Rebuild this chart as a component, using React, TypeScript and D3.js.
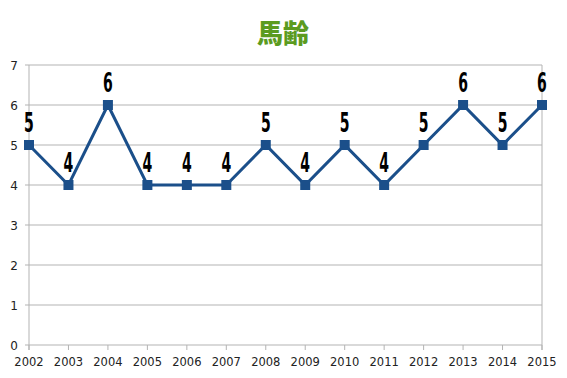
import React from "react";
import * as d3 from "d3";

const years = ["2002","2003","2004","2005","2006","2007","2008","2009","2010","2011","2012","2013","2014","2015"];
const ages = [5,4,6,4,4,4,5,4,5,4,5,6,5,6];
const yTicks = [0,1,2,3,4,5,6,7];
const title = "馬齢";

export default function App() {
  const W = 567, H = 378;
  const left = 29, right = 542, top = 65, bottom = 345;
  const x = d3.scalePoint<string>().domain(years).range([left, right]);
  const y = d3.scaleLinear().domain([0, 7]).range([bottom, top]);
  const line = d3.line<number>().x((_, i) => x(years[i])!).y(d => y(d));
  return (
    <svg width={W} height={H} style={{ position: "absolute", left: 0, top: 0 }}>
      <rect width={W} height={H} fill="#fff" />
      <text x={283} y={43} textAnchor="middle" fontFamily="'Noto Sans CJK JP'" fontWeight="900" fontSize={26} fill="#5b9b1f">{title}</text>
      {yTicks.map(t => (
        <g key={t}>
          <line x1={left - 4} x2={right} y1={y(t)} y2={y(t)} stroke="#b3b3b3" strokeWidth={1} />
          <text x={18} y={y(t) + 5} textAnchor="end" fontFamily="'DejaVu Sans'" fontSize={12} fill="#222">{t}</text>
        </g>
      ))}
      <line x1={left} x2={left} y1={top} y2={bottom + 5} stroke="#b3b3b3" />
      <line x1={right} x2={right} y1={top} y2={bottom + 5} stroke="#b3b3b3" />
      {years.map(yr => (
        <g key={yr}>
          <line x1={x(yr)!} x2={x(yr)!} y1={bottom} y2={bottom + 5} stroke="#b3b3b3" />
          <text x={x(yr)!} y={366} textAnchor="middle" fontFamily="'DejaVu Sans'" fontSize={11.5} fill="#222">{yr}</text>
        </g>
      ))}
      <path d={line(ages)!} fill="none" stroke="#1b4f8a" strokeWidth={3} />
      {ages.map((v, i) => (
        <g key={i}>
          <rect x={x(years[i])! - 5} y={y(v) - 5} width={10} height={10} fill="#1b4f8a" />
          <text transform={`translate(${x(years[i])!},${y(v) - 13}) scale(0.78,1.3)`} textAnchor="middle" fontFamily="'DejaVu Sans Condensed', 'DejaVu Sans'" fontWeight="bold" fontSize={20} fill="#000">{v}</text>
        </g>
      ))}
    </svg>
  );
}
